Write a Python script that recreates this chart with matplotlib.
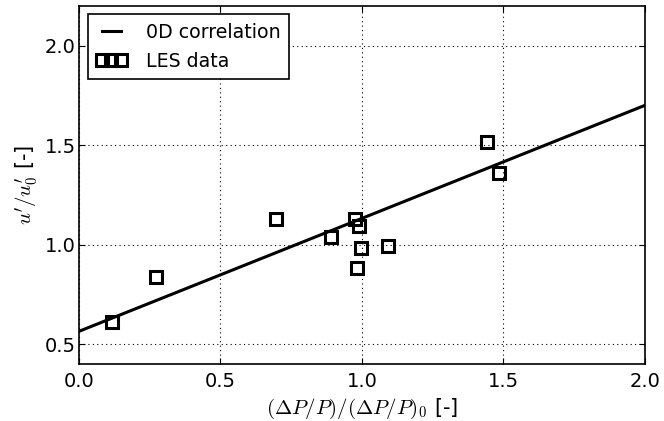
import matplotlib
matplotlib.use('Agg')
import matplotlib.pyplot as plt

# donnees LES
les_x = [0.117, 0.272, 0.696, 0.89, 0.975, 0.99, 0.996, 0.982, 1.092, 1.442, 1.484]
les_y = [0.61, 0.84, 1.13, 1.04, 1.13, 1.095, 0.985, 0.885, 0.995, 1.515, 1.36]

# correlation 0D
corr_x = [0.0, 2.0]
corr_y = [0.565, 1.70]

x_ticks = [0.0, 0.5, 1.0, 1.5, 2.0]
y_ticks = [0.5, 1.0, 1.5, 2.0]

plt.rcParams['mathtext.fontset'] = 'cm'
plt.rcParams['font.size'] = 14

fig = plt.figure(figsize=(6.64, 4.21), dpi=100)
ax = fig.add_axes([0.119, 0.135, 0.852, 0.851])

ax.plot(corr_x, corr_y, color='k', lw=2.2, label='0D correlation')
ax.plot(les_x, les_y, ls='none', marker='s', ms=9, mfc='none', mec='k',
        mew=2.2, label='LES data')

ax.set_xlim(0, 2)
ax.set_ylim(0.4, 2.2)
ax.set_xticks(x_ticks)
ax.set_yticks(y_ticks)
ax.grid(True, ls=(0, (1, 3)), color='k', lw=0.8)
ax.tick_params(direction='in', length=4, top=True, right=True, labelsize=14)
ax.tick_params(axis='x', pad=6)
ax.tick_params(axis='y', pad=2.5)
for s in ax.spines.values():
    s.set_linewidth(1.2)

ax.set_xlabel(r"$(\Delta P/P)/(\Delta P/P)_0$ [-]", fontsize=15)
ax.set_ylabel(r"$u'/u_0'$ [-]", fontsize=15, labelpad=3)

leg = ax.legend(loc='upper left', numpoints=3, fancybox=False, framealpha=1,
                edgecolor='k', fontsize=13.7, borderaxespad=0.45,
                handlelength=1.6, handletextpad=1.0, borderpad=0.45)
leg.get_frame().set_linewidth(1.2)

fig.savefig('out.png', dpi=100)
